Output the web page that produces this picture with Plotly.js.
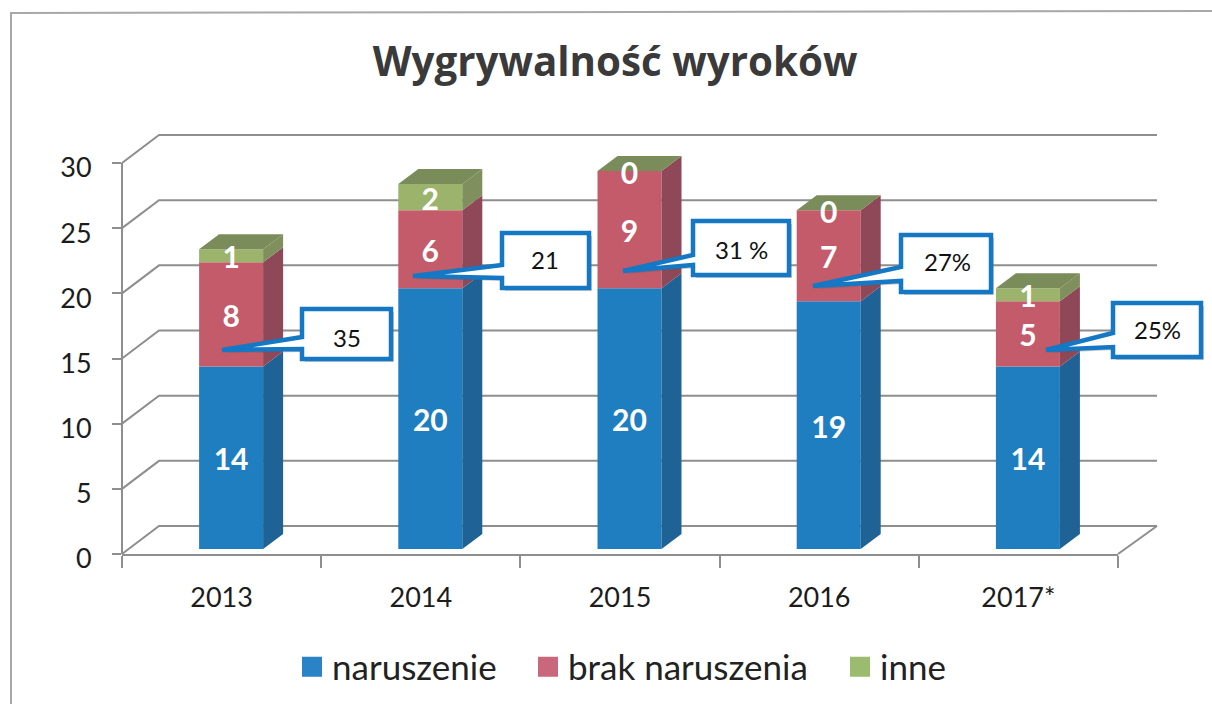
<!DOCTYPE html>
<html>
<head>
<meta charset="utf-8">
<script src="https://cdn.plot.ly/plotly-3.0.1.min.js"></script>
<style>html,body{margin:0;padding:0;background:#fff}#chart{width:1212px;height:704px}</style>
</head>
<body>
<div id="chart"></div>
<script>
// ---- data ----
const categories = ['2013', '2014', '2015', '2016', '2017*'];
const naruszenie = [14, 20, 20, 19, 14];
const brakNaruszenia = [8, 6, 9, 7, 5];
const inne = [1, 2, 0, 0, 1];
const seriesNames = ['naruszenie', 'brak naruszenia', 'inne'];
const yTicks = [0, 5, 10, 15, 20, 25, 30];
const calloutLabels = ['35', '21', '31 %', '27%', '25%'];

// ---- styles ----
const FONT = 'Lato, "Open Sans", sans-serif';
const frontColors = ['#1f7ec0', '#c45b6a', '#9bb36b'];
const legendColors = ['#2a83c7', '#c9677c', '#9bbb6f'];
const sideColors = ['#1f6296', '#8e4858', '#7f905e'];
const topColor = '#7b8c5b';
const GRID = '#8e8e8e';
const CALLOUT = '#1478c4';

// ---- geometry of the pseudo-3D look ----
const W = 1212, H = 704;
const L = 122, R = 1118, T = 130, B = 554;
const xUnit = (R - L) / 5, yUnit = (B - 163) / 30;
const yTop = (B - T) / yUnit;
const barWidth = 64 / xUnit, barShift = 9.5 / xUnit;
const lift = 5 / yUnit;
const sideDx = 20 / xUnit, sideDy = 15 / yUnit;
const wallDx = 37 / xUnit, wallDxR = 39 / xUnit, wallDy = 28 / yUnit;
const labelDrop = 5 / yUnit;
const px = x => (x - L) / (R - L);
const py = y => (B - y) / (B - T);
const dx = v => (v + 0.5) / 5;
const dy = v => v / yTop;

const stacks = [naruszenie, brakNaruszenia, inne];
const idx = categories.map((_, i) => i);
const bases = [];
let running = idx.map(() => lift);
stacks.forEach(s => { bases.push(running.slice()); running = running.map((r, i) => r + s[i]); });
const tops = running;

const traces = [];
// front faces
stacks.forEach((s, k) => traces.push({
  type: 'bar', x: idx, y: s, base: bases[k], width: barWidth, offset: barShift - barWidth / 2,
  name: seriesNames[k], marker: {color: frontColors[k], line: {width: 0}}, showlegend: false, hoverinfo: 'y+name'
}));
// side faces
stacks.forEach((s, k) => {
  const xs = [], ys = [];
  idx.forEach(i => {
    const x0 = i + barShift + barWidth / 2, y0 = bases[k][i], y1 = y0 + s[i];
    if (s[i] === 0) return;
    xs.push(x0, x0 + sideDx, x0 + sideDx, x0, x0, null);
    ys.push(y0, y0 + sideDy, y1 + sideDy, y1, y0, null);
  });
  traces.push({type: 'scatter', mode: 'lines', x: xs, y: ys, fill: 'toself', fillcolor: sideColors[k],
    line: {width: 0, color: sideColors[k]}, showlegend: false, hoverinfo: 'skip'});
});
// top faces
{
  const xs = [], ys = [];
  idx.forEach(i => {
    const a = i + barShift - barWidth / 2, b = a + barWidth, y = tops[i];
    xs.push(a, b, b + sideDx, a + sideDx, a, null);
    ys.push(y, y, y + sideDy, y + sideDy, y, null);
  });
  traces.push({type: 'scatter', mode: 'lines', x: xs, y: ys, fill: 'toself', fillcolor: topColor,
    line: {width: 0, color: topColor}, showlegend: false, hoverinfo: 'skip'});
}
// value labels
stacks.forEach((s, k) => traces.push({
  type: 'scatter', mode: 'text', x: idx.map(i => i + barShift), y: idx.map(i => bases[k][i] + s[i] / 2 - labelDrop),
  text: s.map(String), textposition: 'middle center',
  textfont: {family: FONT, size: 30, color: '#ffffff', weight: 'bold'},
  showlegend: false, hoverinfo: 'skip'
}));
// legend entries
const legendWidths = [191, 267, 70];
seriesNames.forEach((n, k) => traces.push({
  type: 'scatter', mode: 'markers', x: [null], y: [null], name: n, legendwidth: legendWidths[k],
  marker: {symbol: 'square', size: 16, color: legendColors[k], line: {width: 4, color: legendColors[k]}}
}));

// ---- walls ----
const shapes = [];
const xBack0 = dx(-0.5 + wallDx), xBack1 = dx(4.5 + wallDxR);
yTicks.forEach(t => {
  shapes.push({type: 'path', xref: 'paper', yref: 'paper', layer: 'below',
    path: `M${dx(-0.5)},${dy(t)} L${xBack0},${dy(t + wallDy)} L${xBack1},${dy(t + wallDy)}`,
    line: {color: GRID, width: 2}});
});
shapes.push({type: 'line', xref: 'paper', yref: 'paper', layer: 'below',
  x0: dx(4.5), y0: dy(0), x1: xBack1, y1: dy(wallDy), line: {color: GRID, width: 2}});
// value axis line
shapes.push({type: 'line', xref: 'paper', yref: 'paper', layer: 'below',
  x0: dx(-0.5), y0: dy(0), x1: dx(-0.5), y1: dy(30), line: {color: GRID, width: 2}});
// frame of the scanned chart
shapes.push({type: 'path', xref: 'paper', yref: 'paper', layer: 'below',
  path: `M${px(11)},${py(H)} L${px(11)},${py(13)} L${px(W)},${py(11)}`, line: {color: '#a8a8a8', width: 2}});

// ---- callouts ----
const calloutBoxes = [
  {l: 302, r: 391, t: 309, b: 359, tipX: 222, tipY: 350, j0: 337, j1: 349, tx: 347, ty: 337},
  {l: 502, r: 589, t: 233, b: 288, tipX: 413, tipY: 276, j0: 265, j1: 278, tx: 545, ty: 259},
  {l: 693, r: 789, t: 221, b: 275, tipX: 623, tipY: 271, j0: 255, j1: 265, tx: 741, ty: 249},
  {l: 901, r: 991, t: 235, b: 292, tipX: 813, tipY: 286, j0: 267, j1: 281, tx: 947, ty: 261},
  {l: 1113, r: 1201, t: 303, b: 357, tipX: 1046, tipY: 350, j0: 333, j1: 347, tx: 1157, ty: 329}
];
const calloutPath = (c, o) => {
  const P = (x, y) => `${px(x + o)},${py(y + o)}`;
  return `M${P(c.l, c.t)} L${P(c.r, c.t)} L${P(c.r, c.b)} L${P(c.l, c.b)} L${P(c.l, c.j1)} L${P(c.tipX, c.tipY)} L${P(c.l, c.j0)} Z`;
};
const annotations = [];
calloutBoxes.forEach((c, i) => {
  shapes.push({type: 'path', xref: 'paper', yref: 'paper', layer: 'above', path: calloutPath(c, 3),
    fillcolor: 'rgba(90,90,90,0.3)', line: {width: 0}});
  shapes.push({type: 'path', xref: 'paper', yref: 'paper', layer: 'above', path: calloutPath(c, 0),
    fillcolor: '#ffffff', line: {color: CALLOUT, width: 4.5}});
  annotations.push({xref: 'paper', yref: 'paper', x: px(c.tx), y: py(c.ty), text: calloutLabels[i],
    showarrow: false, xanchor: 'center', yanchor: 'middle', font: {family: FONT, size: 24, color: '#111111'}});
});

const layout = {
  width: W, height: H, autosize: false,
  margin: {l: L, r: W - R, t: T, b: H - B, pad: 0, autoexpand: false},
  paper_bgcolor: '#ffffff', plot_bgcolor: 'rgba(0,0,0,0)',
  barmode: 'overlay',
  title: {text: 'Wygrywalność wyroków', x: 615 / W, xanchor: 'center', y: 1 - 62 / H, yanchor: 'middle',
    font: {family: '"Open Sans", Lato, sans-serif', size: 40.3, weight: 'bold', color: '#3a3a3a'}},
  xaxis: {
    range: [-0.5, 4.5], tickmode: 'array', tickvals: idx, ticktext: categories, ticks: '',
    showgrid: false, zeroline: false, showline: true, linecolor: GRID, linewidth: 2,
    tickfont: {family: FONT, size: 27, color: '#1c1c1c'}, ticklabelstandoff: 19,
    minor: {tickmode: 'array', tickvals: [-0.5, 0.5, 1.5, 2.5, 3.5, 4.5], ticks: 'outside', ticklen: 12, tickwidth: 2, tickcolor: GRID, showgrid: false}
  },
  yaxis: {
    range: [0, yTop], tickmode: 'array', tickvals: yTicks, ticks: 'outside', ticklen: 9, tickwidth: 2, tickcolor: GRID,
    showgrid: false, zeroline: false, showline: false,
    tickfont: {family: FONT, size: 27, color: '#1c1c1c'}, ticklabelstandoff: 15, ticklabelshift: 5
  },
  legend: {orientation: 'h', x: px(292), xanchor: 'left', y: py(667), yanchor: 'middle',
    font: {family: FONT, size: 35, color: '#222222'}, bgcolor: 'rgba(0,0,0,0)', traceorder: 'normal'},
  shapes, annotations
};
Plotly.newPlot('chart', traces, layout, {displayModeBar: false, staticPlot: true});
</script>
</body>
</html>
